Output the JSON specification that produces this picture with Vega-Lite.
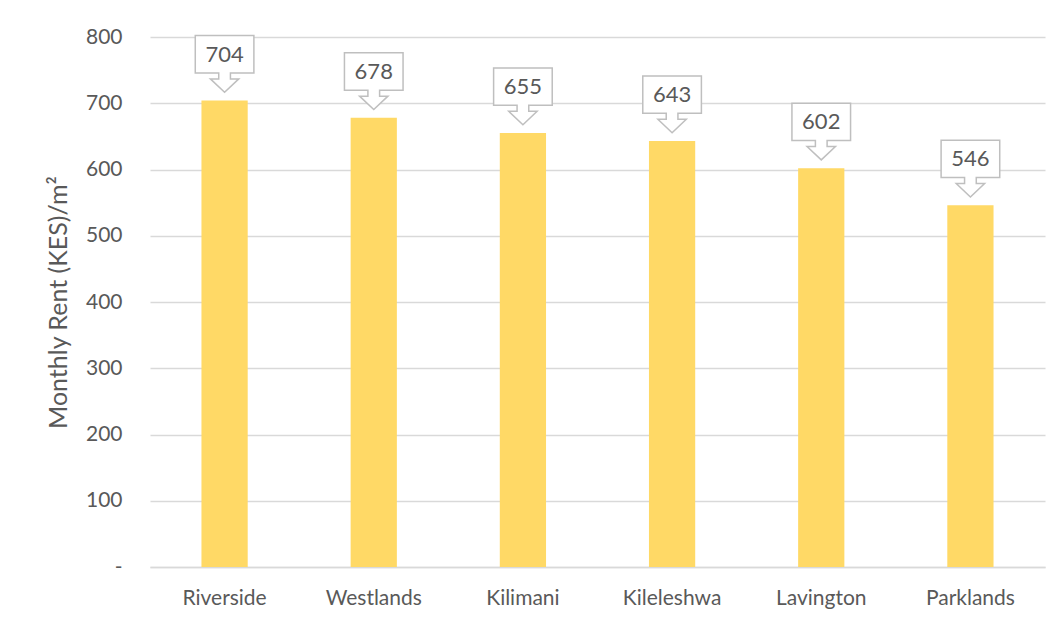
{
  "$schema": "https://vega.github.io/schema/vega-lite/v6.json",
  "width": 895,
  "height": 530,
  "autosize": {"type": "none"},
  "padding": {"left": 150, "top": 37, "right": 15, "bottom": 57},
  "background": "white",
  "data": {
    "values": [
      {"area": "Riverside", "rent": 704},
      {"area": "Westlands", "rent": 678},
      {"area": "Kilimani", "rent": 655},
      {"area": "Kileleshwa", "rent": 643},
      {"area": "Lavington", "rent": 602},
      {"area": "Parklands", "rent": 546}
    ]
  },
  "encoding": {
    "x": {
      "field": "area",
      "type": "nominal",
      "sort": null,
      "scale": {"paddingInner": 0, "paddingOuter": 0},
      "axis": {
        "title": null,
        "labelAngle": 0,
        "labelPadding": 20,
        "ticks": false,
        "domainColor": "#D9D9D9",
        "domainWidth": 1.5
      }
    },
    "y": {
      "field": "rent",
      "type": "quantitative",
      "scale": {"domain": [0, 800]},
      "axis": {
        "title": "Monthly Rent (KES)/m²",
        "titlePadding": 14,
        "titleFontSize": 25,
        "values": [0, 100, 200, 300, 400, 500, 600, 700, 800],
        "labelExpr": "datum.value === 0 ? '-' : datum.label",
        "labelPadding": 28,
        "ticks": false,
        "domain": false,
        "grid": true,
        "gridColor": "#D9D9D9",
        "gridWidth": 1.5
      }
    }
  },
  "layer": [
    {
      "mark": {"type": "bar", "color": "#FFD966", "width": {"band": 0.31}}
    },
    {
      "mark": {
        "type": "point",
        "shape": "M -0.977 -2.167 L 0.977 -2.167 L 0.977 -0.923 L 0.195 -0.923 L 0.195 -0.723 L 0.473 -0.723 L 0 -0.277 L -0.473 -0.723 L -0.195 -0.723 L -0.195 -0.923 L -0.977 -0.923 Z",
        "size": 3600,
        "filled": true,
        "fill": "white",
        "fillOpacity": 1,
        "stroke": "#BFBFBF",
        "strokeWidth": 1.5,
        "opacity": 1
      }
    },
    {
      "mark": {"type": "text", "dy": -46, "fontSize": 22, "color": "#595959", "baseline": "middle"},
      "encoding": {"text": {"field": "rent", "type": "quantitative"}}
    }
  ],
  "config": {
    "font": "Lato",
    "view": {"stroke": null},
    "axis": {
      "labelFont": "Lato",
      "labelFontSize": 21,
      "labelColor": "#595959",
      "titleFont": "Lato",
      "titleFontSize": 21,
      "titleColor": "#595959",
      "titleFontWeight": "normal"
    }
  }
}
